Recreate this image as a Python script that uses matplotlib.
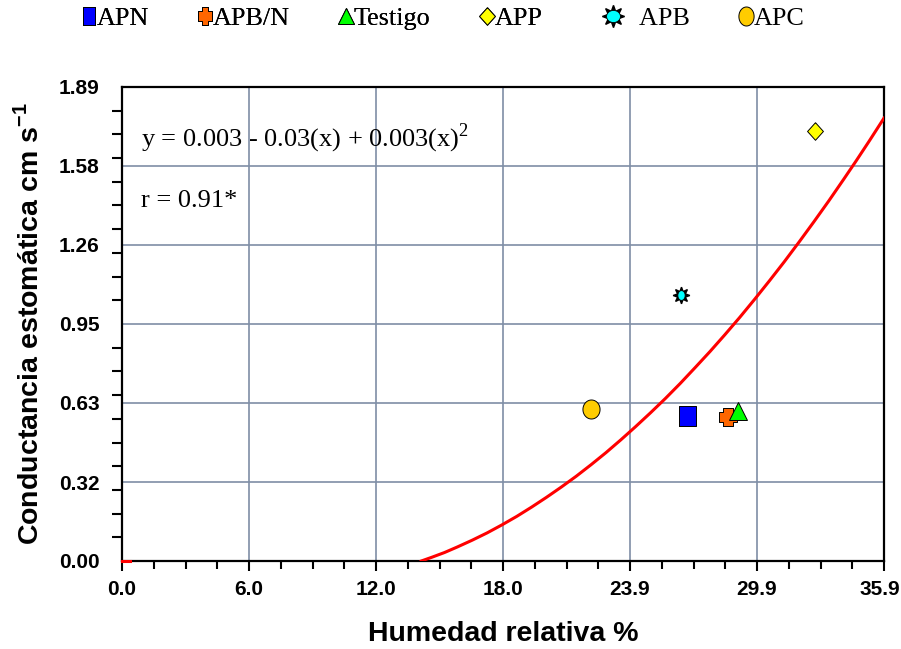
import numpy as np
import matplotlib
matplotlib.use('Agg')
import matplotlib.pyplot as plt
from matplotlib.lines import Line2D
from matplotlib.legend_handler import HandlerTuple
from matplotlib.transforms import ScaledTranslation

plt.rcParams['mathtext.fontset'] = 'custom'
plt.rcParams['mathtext.rm'] = 'Liberation Serif'
plt.rcParams['mathtext.bf'] = 'Liberation Sans:bold'

# tratamientos: humedad relativa (%) y conductancia estomatica (cm s-1)
nombres = ['APN', 'APB/N', 'Testigo', 'APP', 'APB', 'APC']
humedad = [26.6, 28.55, 29.0, 32.65, 26.35, 22.1]
conductancia = [0.579, 0.574, 0.600, 1.715, 1.062, 0.606]

# linea de ajuste
curva_x = [14.1, 14.6, 15.2, 15.8, 16.5, 17.2, 17.9, 18.6, 19.3, 20.0, 20.7,
           21.4, 22.1, 22.8, 23.5, 24.2, 24.9, 25.6, 26.3, 27.0, 27.7, 28.4,
           29.1, 29.8, 30.5, 31.2, 31.9, 32.6, 33.3, 34.0, 34.6, 35.2, 35.9]
curva_y = [0.0, 0.015, 0.034, 0.056, 0.083, 0.112, 0.144, 0.178, 0.215, 0.254,
           0.295, 0.338, 0.384, 0.432, 0.483, 0.536, 0.591, 0.648, 0.708, 0.771,
           0.835, 0.902, 0.971, 1.043, 1.117, 1.193, 1.272, 1.353, 1.436, 1.522,
           1.597, 1.674, 1.766]
tramo_x = [0.0, 0.4]
tramo_y = [0.0, 0.0]

x_etiquetas = ['0.0', '6.0', '12.0', '18.0', '23.9', '29.9', '35.9']
y_etiquetas = ['0.00', '0.32', '0.63', '0.95', '1.26', '1.58', '1.89']
x_max = 35.9
y_max = 1.89


def elipse(w, h, n=48):
    t = np.linspace(0, 2 * np.pi, n)
    return np.column_stack([w * np.cos(t), h * np.sin(t)])


def rect(w, h):
    return [(-w, -h), (w, -h), (w, h), (-w, h), (-w, -h)]


def cruz(w, h):
    a, b = 0.5 * w, 0.5 * h
    return [(-a/2, -b), (a/2, -b), (a/2, -b/2), (a, -b/2), (a, b/2), (a/2, b/2),
            (a/2, b), (-a/2, b), (-a/2, b/2), (-a, b/2), (-a, -b/2), (-a/2, -b/2),
            (-a/2, -b)]


rombo = [(0, 1), (0.9, 0), (0, -1), (-0.9, 0), (0, 1)]
estrella = (8, 1, 0)

# estilo de cada tratamiento: (marcador, tamano, color)
estilos = {
    'APN': (rect(0.85, 1), 14.4, '#0000FF'),
    'APB/N': (cruz(1, 1), 13, '#FF6600'),
    'Testigo': ('^', 12.5, '#00FF00'),
    'APP': (rombo, 12.7, '#FFFF00'),
    'APC': (elipse(0.9, 1), 13.7, '#FFCC00'),
}

fig = plt.figure(figsize=(9.01, 6.49), dpi=100)
ax = fig.add_axes([122/901, 1 - 561/649, 762/901, 474/649])

ax.plot(curva_x, curva_y, color='#FF0000', lw=2.2, zorder=3)
ax.plot(tramo_x, tramo_y, color='#FF0000', lw=2.2, zorder=3, clip_on=False)

for n, hx, cy in zip(nombres, humedad, conductancia):
    if n == 'APB':
        ax.plot(hx, cy, marker=estrella, ms=12, color='black', zorder=5)
        ax.plot(hx, cy, marker=elipse(0.75, 1), ms=7, mfc='#00FFFF',
                mec='black', mew=0.6, zorder=6)
        continue
    m, s, c = estilos[n]
    ax.plot(hx, cy, marker=m, ms=s, mfc=c, mec='black', mew=0.7,
            ls='none', zorder=5)

ax.set_xlim(0, x_max)
ax.set_ylim(0, y_max)

ax.set_xticks(np.linspace(0, x_max, 7))
ax.set_xticklabels(x_etiquetas)
ax.set_xticks(np.linspace(0, x_max, 25), minor=True)
ax.set_yticks(np.linspace(0, y_max, 7))
ax.set_yticklabels(y_etiquetas)
ax.set_yticks(np.linspace(0, y_max, 21), minor=True)

ax.tick_params(axis='x', which='major', direction='out', length=7.5, width=1.5,
               pad=6, labelsize=15)
ax.tick_params(axis='x', which='minor', direction='out', length=5.5, width=1.5)
ax.tick_params(axis='y', which='major', length=0, pad=16, labelsize=15)
ax.tick_params(axis='y', which='minor', direction='out', length=7.5, width=1.5)
for t in ax.get_xticklabels() + ax.get_yticklabels():
    t.set_fontfamily('Liberation Sans')
    t.set_fontweight('bold')

# la ultima etiqueta del eje x, un poco hacia dentro para que no se corte
ultima = ax.get_xticklabels()[-1]
ultima.set_transform(ultima.get_transform() +
                     ScaledTranslation(-4/100, 0, fig.dpi_scale_trans))

ax.grid(True, which='major', color='#7f8ea6', lw=1.2)
ax.set_axisbelow(True)
for sp in ax.spines.values():
    sp.set_linewidth(1.6)

ax.set_xlabel('Humedad relativa %', fontsize=20.5, fontweight='bold',
              family='Liberation Sans', va='center')
ax.xaxis.set_label_coords(0.5, -0.155)
ax.set_ylabel(r'Conductancia estomática cm s$^{\mathbf{-1}}$', fontsize=20.5,
              fontweight='bold', family='Liberation Sans', va='center')
ax.yaxis.set_label_coords(-0.121, 0.5)

ax.text(0.88, 1.652, r'y = 0.003 - 0.03(x) + 0.003(x)$^{\mathrm{2}}$',
        family='Liberation Serif', fontsize=19, va='baseline')
ax.text(0.88, 1.413, 'r = 0.91*', family='Liberation Serif', fontsize=19,
        va='baseline')

# leyenda en dos bloques
fuente = {'family': 'Liberation Serif', 'size': 18.8}
opciones = dict(loc='center left', frameon=False, handlelength=0.6,
                handletextpad=0.0, columnspacing=1.85, prop=fuente,
                borderpad=0, borderaxespad=0,
                handler_map={tuple: HandlerTuple(ndivide=1)})

ley_a = []
for m, s, c in [(rect(0.65, 1), 12.6, '#0000FF'), (cruz(0.75, 1), 13, '#FF6600'),
                ('^', 11.5, '#00FF00'), (rombo, 12.6, '#FFFF00')]:
    ley_a.append(Line2D([], [], marker=m, ms=s, mfc=c, mec='black', mew=0.7, ls='none'))
leg = fig.legend(ley_a, nombres[:4], bbox_to_anchor=(81/901, 0.972), ncol=4, **opciones)
fig.add_artist(leg)

ley_b = [(Line2D([], [], marker=estrella, ms=16, color='black', ls='none'),
          Line2D([], [], marker=elipse(1, 0.87), ms=10, mfc='#00FFFF',
                 mec='black', mew=0.6, ls='none')),
         Line2D([], [], marker=elipse(0.8, 1), ms=13.7, mfc='#FFCC00',
                mec='black', mew=0.7, ls='none')]
fig.legend(ley_b, ['   APB', 'APC'], bbox_to_anchor=(605/901, 0.972), ncol=2,
           **opciones)

fig.savefig('out.png', dpi=100)
